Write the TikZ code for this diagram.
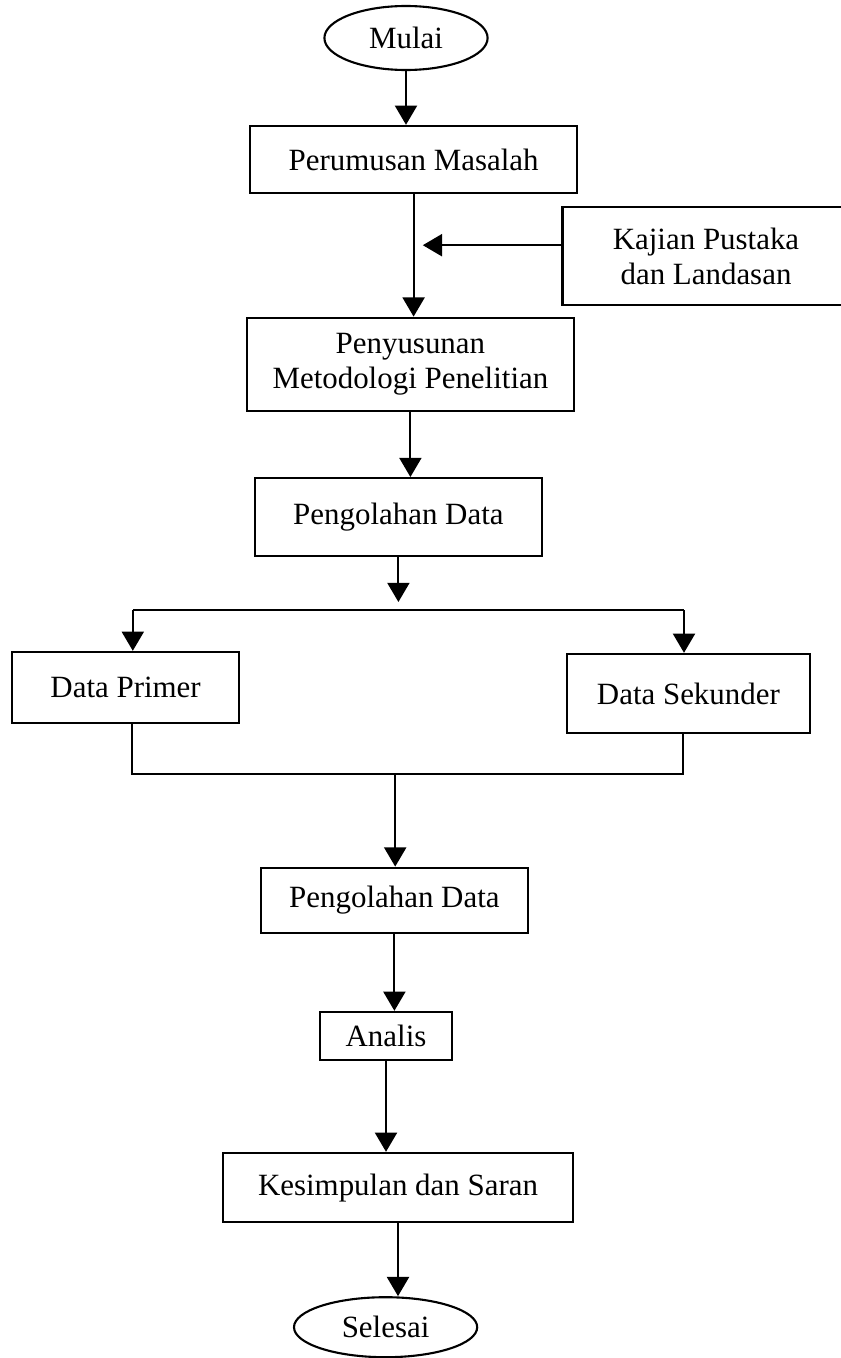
\documentclass[tikz,border=0pt]{standalone}
\usepackage{fontspec}
\setmainfont{Liberation Serif}
\usetikzlibrary{shapes.geometric,arrows.meta}

\begin{document}
\begin{tikzpicture}[font=\fontsize{22}{25}\selectfont,
  box/.style={draw, line width=1.7pt, align=center, inner sep=0pt},
  term/.style={draw, ellipse, line width=1.5pt, inner sep=0pt},
  arr/.style={line width=1.5pt, -{Triangle[width=0.55cm,length=0.48cm]}}]
\useasboundingbox (0,0) rectangle (21,-33.95);

\node[term, minimum width=4.08cm, minimum height=1.6cm] (mulai) at (10.15,-0.95) {Mulai};
\node[box, minimum width=8.18cm, minimum height=1.68cm] (rumus) at (10.34,-3.99) {Perumusan Masalah};
\node[box, minimum width=7.18cm, minimum height=2.45cm] (kajian) at (17.65,-6.4) {Kajian Pustaka\\dan Landasan};
\node[box, minimum width=8.18cm, minimum height=2.33cm] (susun) at (10.26,-9.11) {Penyusunan\\Metodologi Penelitian};
\node[box, minimum width=7.18cm, minimum height=1.95cm] (olah1) at (9.96,-12.93) {Pengolahan Data};

\node[box, minimum width=5.68cm, minimum height=1.78cm] (primer) at (3.14,-17.19) {Data Primer};
\node[box, minimum width=6.08cm, minimum height=1.98cm] (sekunder) at (17.21,-17.34) {Data Sekunder};

\node[box, minimum width=6.68cm, minimum height=1.63cm] (olah2) at (9.86,-22.51) {Pengolahan Data};
\node[box, minimum width=3.3cm, minimum height=1.2cm] (analis) at (9.65,-25.9) {Analis};
\node[box, minimum width=8.75cm, minimum height=1.73cm] (simpul) at (9.95,-29.69) {Kesimpulan dan Saran};
\node[term, minimum width=4.58cm, minimum height=1.5cm] (selesai) at (9.64,-33.18) {Selesai};

\coordinate (kajtip) at (10.57,-6.13);
\coordinate (pisah) at (9.96,-15.05);
\coordinate (pisahL) at (3.32,-15.25);
\coordinate (pisahR) at (17.1,-15.25);
\coordinate (gabungL) at (3.3,-19.35);
\coordinate (gabungR) at (17.08,-19.35);
\coordinate (gabung) at (9.88,-19.35);

\path[draw,arr] (mulai) -- (mulai |- rumus.north);
\path[draw,arr] (rumus) -- (rumus |- susun.north);
\path[draw,arr] (kajian.west |- kajtip) -- (kajtip);
\path[draw,arr] (susun) -- (susun |- olah1.north);
\path[draw,arr] (olah1) -- (pisah);

\path[draw,line width=1.5pt] (pisahL) -- (pisahR);
\path[draw,arr] (pisahL) -- (pisahL |- primer.north);
\path[draw,arr] (pisahR) -- (pisahR |- sekunder.north);

\path[draw,line width=1.5pt] (primer.south -| gabungL) -- (gabungL) -- (gabungR) -- (sekunder.south -| gabungR);
\path[draw,arr] (gabung) -- (gabung |- olah2.north);

\path[draw,arr] (olah2) -- (olah2 |- analis.north);
\path[draw,arr] (analis) -- (analis |- simpul.north);
\path[draw,arr] (simpul) -- (simpul |- selesai.north);

\end{tikzpicture}
\end{document}
